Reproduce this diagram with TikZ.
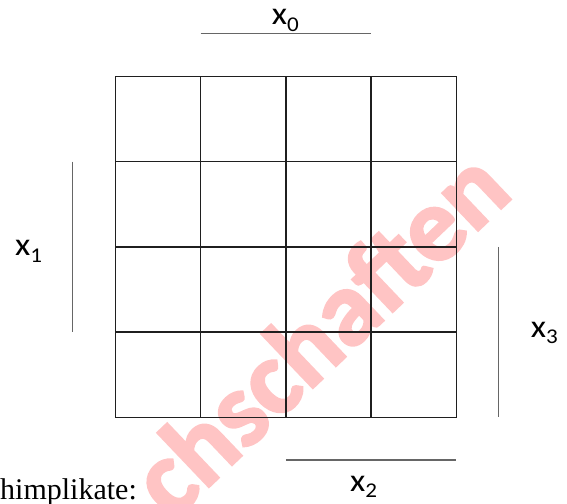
\documentclass[tikz,border=0pt]{standalone}
\usepackage{fontspec}
\setmainfont{Liberation Serif}
\newfontfamily\labelfont{Carlito}
\newfontfamily\wmfont{Carlito}
\usetikzlibrary{positioning}
\definecolor{wmark}{RGB}{255,196,196}
\newcommand{\varlabel}[1]{x\raisebox{-6.5pt}{\fontsize{21}{21}\selectfont #1}}
\newcommand{\heavy}[1]{\special{pdf:literal 2 Tr 2.6 w}#1\special{pdf:literal 0 Tr}}

\begin{document}
\begin{tikzpicture}[
  x=1pt, y=1pt,
  cell/.style={draw=black!88, line width=1.5pt, minimum size=85.2pt,
               inner sep=0pt, outer sep=0pt},
  bar/.style={draw=black!60, line width=1.3pt},
  var/.style={font=\labelfont\fontsize{32}{34}\selectfont, inner sep=0pt,
              anchor=base west, xscale=1.1}
]
  \useasboundingbox (0,0) rectangle (567,503);

  % watermark
  \begin{scope}
    \clip (0,0) rectangle (567,503);
    \node[text=wmark, rotate=43.6, inner sep=0pt,
          font=\wmfont\bfseries\fontsize{106}{106}\selectfont] (wm) at (318,171) {\heavy{chschaften}};
  \end{scope}

  % map
  \foreach \r in {1,...,4}
    \foreach \c in {1,...,4}
      \node[cell] (c\r\c) at ({158.1+85.2*(\c-1)}, {383.9-85.2*(\r-1)}) {};

  \draw[bar] ([yshift=43pt]c12.north west) -- ([yshift=43pt]c13.north east);
  \draw[bar] ([xshift=-43pt]c21.north west) -- ([xshift=-43pt]c31.south west);
  \draw[bar] ([xshift=42.4pt]c34.north east) -- ([xshift=42.4pt]c44.south east);
  \draw[bar] ([yshift=-42.7pt]c43.south west) -- ([yshift=-42.7pt]c44.south east);

  \node[var] (lx0) at (271.7,478) {\varlabel{0}};
  \node[var] (lx1) at (15,247) {\varlabel{1}};
  \node[var] (lx3) at (530.7,165.7) {\varlabel{3}};
  \node[var] (lx2) at (350,12) {\varlabel{2}};

  \node[anchor=base west, inner sep=0pt, font=\fontsize{30}{32}\selectfont] (note) at (0,4) {himplikate:};
\end{tikzpicture}
\end{document}
